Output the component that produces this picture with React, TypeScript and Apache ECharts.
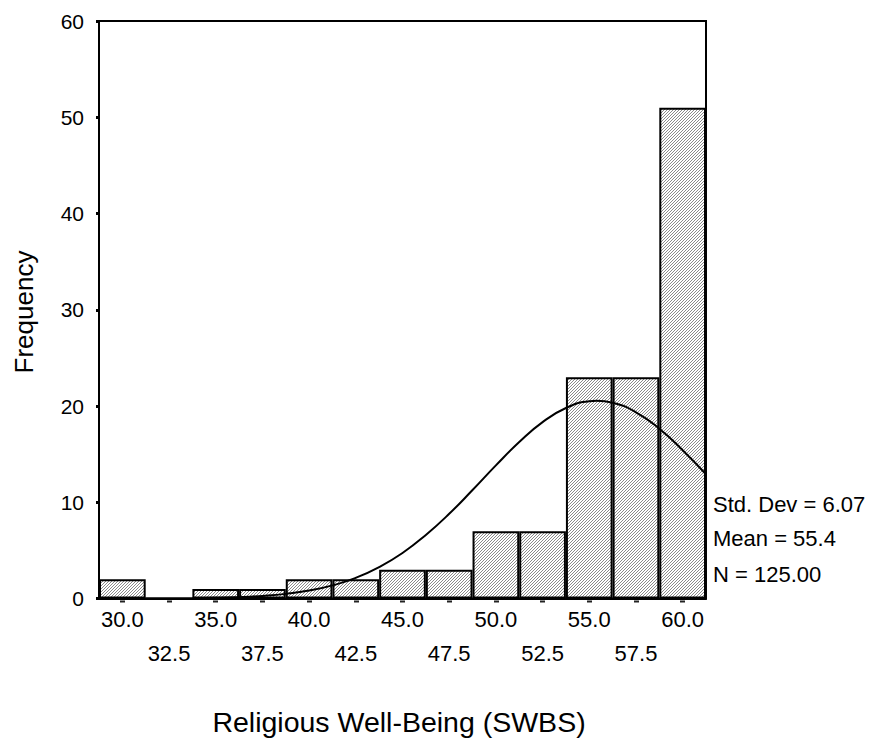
import React, { useEffect, useRef } from "react";
import * as echarts from "echarts";

const binLabels = ["30.0", "32.5", "35.0", "37.5", "40.0", "42.5", "45.0", "47.5", "50.0", "52.5", "55.0", "57.5", "60.0"];
const binCounts = [2, 0, 1, 1, 2, 2, 3, 3, 7, 7, 23, 23, 51];
const curveX = [33.75, 35, 36.25, 37.5, 38.75, 40, 41.25, 42.5, 43.75, 45, 46.25, 47.5, 48.75, 50, 51.25, 52.5, 53.75, 55, 55.4, 56.25, 57.5, 58.75, 60, 61.25];
const curveY = [0.04, 0.07, 0.14, 0.27, 0.48, 0.82, 1.36, 2.15, 3.26, 4.73, 6.6, 8.8, 11.27, 13.83, 16.26, 18.33, 19.79, 20.5, 20.54, 20.34, 19.35, 17.64, 15.41, 12.91];
const statLines = ["Std. Dev = 6.07", "Mean = 55.4", "N = 125.00"];
const xTitle = "Religious Well-Being (SWBS)";
const yTitle = "Frequency";
const yMin = 0;
const yMax = 60;
const yStep = 10;
const xValueMin = 28.75;
const xValueMax = 61.25;

const FONT = "'Liberation Sans', Arial, Helvetica, sans-serif";

function makeHatch(): HTMLCanvasElement {
  const c = document.createElement("canvas");
  c.width = 3;
  c.height = 3;
  const ctx = c.getContext("2d")!;
  ctx.fillStyle = "#ffffff";
  ctx.fillRect(0, 0, 3, 3);
  ctx.fillStyle = "#8a8a8a";
  ctx.fillRect(2, 0, 1, 1);
  ctx.fillRect(1, 1, 1, 1);
  ctx.fillRect(0, 2, 1, 1);
  return c;
}

export default function App() {
  const ref = useRef<HTMLDivElement>(null);
  useEffect(() => {
    if (!ref.current) return;
    const chart = echarts.init(ref.current, null, { renderer: "svg" });
    const hatch = makeHatch();
    const statY = [504, 538, 574];
    const option: any = {
      animation: false,
      grid: {
        left: 99,
        top: 21,
        right: 167,
        bottom: 146.5,
        show: true,
        borderColor: "#000",
        borderWidth: 2,
        backgroundColor: "transparent",
      },
      xAxis: [
        {
          type: "category",
          data: binLabels,
          position: "bottom",
          axisLine: { show: true, lineStyle: { color: "#000", width: 2 } },
          axisTick: { show: false },
          axisLabel: {
            interval: (i: number) => i % 2 === 0,
            margin: 10,
            fontSize: 22,
            color: "#000",
            fontFamily: FONT,
          },
          splitLine: { show: false },
        },
        {
          type: "category",
          data: binLabels,
          position: "bottom",
          offset: 2,
          axisLine: { show: false },
          axisTick: {
            show: true,
            interval: 0,
            alignWithLabel: true,
            length: 2,
            lineStyle: { color: "#222", width: 5 },
          },
          axisLabel: {
            interval: (i: number) => i % 2 === 1,
            margin: 42,
            fontSize: 22,
            color: "#000",
            fontFamily: FONT,
          },
          splitLine: { show: false },
        },
        {
          type: "value",
          min: xValueMin,
          max: xValueMax,
          show: false,
        },
      ],
      yAxis: {
        type: "value",
        min: yMin,
        max: yMax,
        interval: yStep,
        axisLine: { show: true, lineStyle: { color: "#000", width: 2 } },
        axisTick: { show: true, length: 3, lineStyle: { color: "#000", width: 3 } },
        axisLabel: { margin: 15, fontSize: 21, color: "#000", fontFamily: FONT },
        splitLine: { show: false },
      },
      series: [
        {
          type: "bar",
          xAxisIndex: 0,
          data: binCounts,
          barCategoryGap: "0%",
          itemStyle: {
            color: { image: hatch, repeat: "repeat", imageWidth: 3, imageHeight: 3 },
            borderColor: "#000",
            borderWidth: 2,
          },
          silent: true,
        },
        {
          type: "line",
          xAxisIndex: 2,
          data: curveX.map((x, i) => [x, curveY[i]]),
          smooth: true,
          showSymbol: false,
          lineStyle: { color: "#000", width: 2 },
          silent: true,
        },
      ],
      graphic: [
        {
          type: "text",
          x: 24,
          y: 312,
          rotation: Math.PI / 2,
          style: {
            text: yTitle,
            fontSize: 26,
            fontFamily: FONT,
            fill: "#000",
            align: "center",
            verticalAlign: "middle",
          },
        },
        {
          type: "text",
          x: 399,
          y: 722,
          style: {
            text: xTitle,
            fontSize: 28.5,
            fontFamily: FONT,
            fill: "#000",
            align: "center",
            verticalAlign: "middle",
          },
        },
        ...statLines.map((t, i) => ({
          type: "text",
          x: 713,
          y: statY[i],
          style: {
            text: t,
            fontSize: 22,
            fontFamily: FONT,
            fill: "#000",
            align: "left",
            verticalAlign: "middle",
          },
        })),
      ],
    };
    chart.setOption(option);
    return () => chart.dispose();
  }, []);
  return (
    <div
      ref={ref}
      style={{ position: "absolute", left: 0, top: 0, width: 873, height: 745 }}
    />
  );
}
